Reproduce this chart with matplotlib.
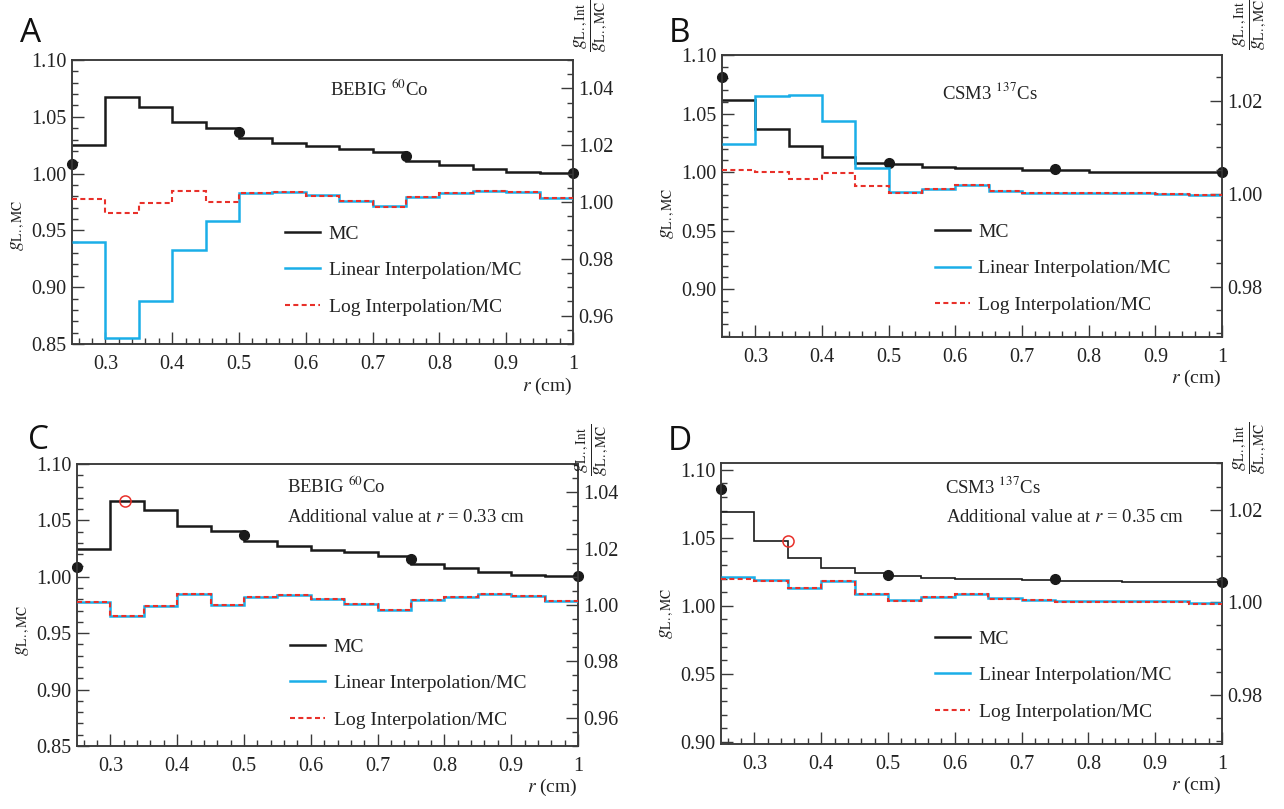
import matplotlib
matplotlib.use('Agg')
import matplotlib.pyplot as plt
from matplotlib.ticker import MultipleLocator, FixedLocator, FixedFormatter, FormatStrFormatter
from matplotlib.lines import Line2D

plt.rcParams['font.family'] = ['Liberation Serif', 'DejaVu Serif']
plt.rcParams['mathtext.fontset'] = 'stix'

# ---------------- data ----------------
r_edges = [0.25, 0.30, 0.35, 0.40, 0.45, 0.50, 0.55, 0.60, 0.65, 0.70,
           0.75, 0.80, 0.85, 0.90, 0.95, 1.00]
ref_r = [0.25, 0.50, 0.75, 1.00]
x_tick_vals = [0.3, 0.4, 0.5, 0.6, 0.7, 0.8, 0.9, 1.0]
x_tick_labels = ['0.3', '0.4', '0.5', '0.6', '0.7', '0.8', '0.9', '1']

# BEBIG 60Co (panels A and C)
co_mc = [1.025, 1.067, 1.059, 1.0454, 1.0404, 1.0315, 1.027, 1.024, 1.0218,
         1.0188, 1.0115, 1.008, 1.004, 1.0017, 1.0005]
co_ref = [1.0085, 1.037, 1.0157, 1.0003]
co_lin_A = [0.986, 0.9521, 0.965, 0.983, 0.9933, 1.0032, 1.0036, 1.0024,
            1.0004, 0.9986, 1.0018, 1.0031, 1.0039, 1.0035, 1.0015]
co_log_A = [1.001, 0.996, 0.9997, 1.0038, 1.0001, 1.003, 1.0035, 1.0022,
            1.0002, 0.9984, 1.0016, 1.003, 1.0038, 1.0034, 1.0014]
co_lin_C = [1.001, 0.996, 0.9997, 1.0038, 1.0001, 1.003, 1.0035, 1.0022,
            1.0002, 0.9983, 1.0016, 1.0029, 1.0038, 1.0033, 1.0013]
co_log_C = [1.001, 0.996, 0.9997, 1.0038, 1.0001, 1.003, 1.0035, 1.0022,
            1.0002, 0.9983, 1.0016, 1.0029, 1.0038, 1.0033, 1.0013]
co_extra_r = [0.322]
co_extra_g = [1.0672]

# CSM3 137Cs (panels B and D)
cs_mc_B = [1.0616, 1.0365, 1.0221, 1.013, 1.008, 1.0066, 1.0046, 1.0032,
           1.0032, 1.0018, 1.0018, 1.0003, 1.0003, 1.0003, 1.0003]
cs_ref_B = [1.0808, 1.0074, 1.0026, 1.0003]
cs_lin_B = [1.0106, 1.0209, 1.0212, 1.0156, 1.0055, 1.0004, 1.0011, 1.0018,
            1.0006, 1.0001, 1.0001, 1.0001, 1.0001, 0.9999, 0.9997]
cs_log_B = [1.005, 1.0046, 1.0031, 1.0044, 1.0016, 1.0001, 1.0009, 1.0018,
            1.0006, 1.0001, 1.0001, 1.0001, 1.0001, 0.9999, 0.9997]

cs_mc_D = [1.0688, 1.048, 1.0354, 1.0276, 1.0239, 1.022, 1.0202, 1.0195,
           1.0195, 1.019, 1.0183, 1.0183, 1.0176, 1.0176, 1.0176]
cs_ref_D = [1.0861, 1.0229, 1.0195, 1.0176]
cs_lin_D = [1.0054, 1.0049, 1.0032, 1.0047, 1.0018, 1.0004, 1.0012, 1.0018,
            1.0009, 1.0005, 1.0002, 1.0002, 1.0002, 1.0002, 0.9998]
cs_log_D = [1.005, 1.0047, 1.0031, 1.0046, 1.0017, 1.0003, 1.0011, 1.0017,
            1.0008, 1.0004, 1.0001, 1.0001, 1.0001, 1.0001, 0.9997]
cs_extra_r = [0.35]
cs_extra_g = [1.0476]

source_co = r'BEBIG $^{60}$Co'
source_cs = r'CSM3 $^{137}$Cs'
extra_text_C = r'Additional value at $r$ = 0.33 cm'
extra_text_D = r'Additional value at $r$ = 0.35 cm'
legend_labels = ['MC', 'Linear Interpolation/MC', 'Log Interpolation/MC']

# ---------------- style ----------------
W, H = 1284, 809
BLACK = '#1a1a1a'
BLUE = '#1aaee8'
RED = '#e8302a'
SPINE = '#3a3a3a'

fig = plt.figure(figsize=(W / 100, H / 100), dpi=100)


def px_rect(l, t, r, b):
    return [l / W, 1 - b / H, (r - l) / W, (b - t) / H]


def panel(rect, letter, letter_xy, ylim_l, ylim_r, lmaj, rmaj,
          mc, ref, lin, log, extra, texts, legend_xy, ylab_y, rlab_xy,
          mc_lw=1.8):
    ax = fig.add_axes(px_rect(*rect))
    ax.set_xlim(0.25, 1.0)
    ax.set_ylim(*ylim_l)
    ax2 = ax.twinx()
    ax2.set_ylim(*ylim_r)

    for a in (ax, ax2):
        for s in a.spines.values():
            s.set_color(SPINE)
            s.set_linewidth(1.1)

    # ticks
    ax.xaxis.set_major_locator(FixedLocator(x_tick_vals))
    ax.xaxis.set_major_formatter(FixedFormatter(x_tick_labels))
    ax.xaxis.set_minor_locator(MultipleLocator(0.02))
    ax.yaxis.set_major_locator(MultipleLocator(lmaj))
    ax.yaxis.set_minor_locator(MultipleLocator(0.01))
    ax.yaxis.set_major_formatter(FormatStrFormatter('%.2f'))
    ax2.yaxis.set_major_locator(MultipleLocator(rmaj))
    ax2.yaxis.set_minor_locator(MultipleLocator(0.005))
    ax2.yaxis.set_major_formatter(FormatStrFormatter('%.2f'))
    ax.tick_params(axis='both', which='both', direction='in', color=SPINE,
                   labelsize=14.5, labelcolor='#222222', width=1.0)
    ax.tick_params(axis='both', which='major', length=8.5)
    ax.tick_params(axis='both', which='minor', length=4.2)
    ax.tick_params(axis='x', pad=8)
    ax.tick_params(axis='y', pad=4, right=False, left=True)
    ax.tick_params(axis='x', top=False)
    ax2.tick_params(axis='y', which='both', direction='in', color=SPINE,
                    labelsize=14.5, labelcolor='#222222', width=1.0, pad=4)
    ax2.tick_params(axis='y', which='major', length=8.5)
    ax2.tick_params(axis='y', which='minor', length=4.2)

    # curves
    ax.stairs(mc, r_edges, baseline=None, color=BLACK, lw=mc_lw, zorder=3)
    ax.plot(ref_r, ref, 'o', color=BLACK, ms=7, clip_on=False, zorder=5)
    if extra is not None:
        ax.plot(extra[0], extra[1], 'o', mfc='none', mec=RED, mew=1.1,
                ms=8, zorder=6)
    ax2.stairs(lin, r_edges, baseline=None, color=BLUE, lw=1.8, zorder=3)
    ax2.stairs(log, r_edges, baseline=None, color=RED, lw=1.5,
               linestyle=(0, (2.4, 1.6)), zorder=4)

    # annotation texts
    for (tx, ty, s) in texts:
        ax.text(tx, ty, s, transform=ax.transAxes, fontsize=13.5,
                ha='left', va='center', color='#222222')

    # legend
    handles = [Line2D([], [], color=BLACK, lw=1.8),
               Line2D([], [], color=BLUE, lw=1.8),
               Line2D([], [], color=RED, lw=1.5, linestyle=(0, (2.4, 1.6)))]
    ax2.legend(handles, legend_labels, loc='upper left',
               bbox_to_anchor=legend_xy, bbox_transform=ax.transAxes,
               frameon=False, fontsize=14, handlelength=1.8,
               handletextpad=0.45, labelspacing=0.98, borderpad=0,
               borderaxespad=0, labelcolor='#222222')

    # axis labels
    ax.text(1.0, -0.148, r'$r$ (cm)', transform=ax.transAxes, ha='right',
            va='center', fontsize=14, color='#222222')
    ax.text(-0.108, ylab_y, r'$g_{\mathrm{L.,MC}}$', transform=ax.transAxes,
            rotation=90, ha='center', va='center', fontsize=14,
            color='#222222')
    fig.text(rlab_xy[0] / W, 1 - rlab_xy[1] / H,
             r'$\dfrac{g_{\mathrm{L.,Int}}}{g_{\mathrm{L.,MC}}}$',
             rotation=90, ha='center', va='center', fontsize=14,
             color='#222222')
    fig.text(letter_xy[0] / W, 1 - letter_xy[1] / H, letter,
             family='Open Sans', fontsize=24, ha='center', va='center',
             color='#111111')
    return ax, ax2


# Panel A
panel((72, 60, 573, 344), 'A', (31, 34), (0.85, 1.10), (0.95, 1.05), 0.05, 0.02,
      co_mc, co_ref, co_lin_A, co_log_A, None,
      [(0.515, 0.898, source_co)],
      (0.425, 0.419), 0.42, (591, 26))

# Panel B
panel((722, 55, 1222, 337), 'B', (680, 34), (0.859, 1.10), (0.9692, 1.0298),
      0.05, 0.02,
      cs_mc_B, cs_ref_B, cs_lin_B, cs_log_B, None,
      [(0.44, 0.866, source_cs)],
      (0.425, 0.404), 0.44, (1250, 24))

# Panel C
panel((77, 464, 578, 746), 'C', (38, 440), (0.85, 1.10), (0.95, 1.05), 0.05, 0.02,
      co_mc, co_ref, co_lin_C, co_log_C, (co_extra_r, co_extra_g),
      [(0.42, 0.92, source_co), (0.42, 0.812, extra_text_C)],
      (0.425, 0.383), 0.41, (592, 450))

# Panel D
panel((721, 463, 1222, 744), 'D', (680, 442), (0.8985, 1.105), (0.9694, 1.0301),
      0.05, 0.02,
      cs_mc_D, cs_ref_D, cs_lin_D, cs_log_D, (cs_extra_r, cs_extra_g),
      [(0.447, 0.917, source_cs), (0.45, 0.806, extra_text_D)],
      (0.427, 0.406), 0.465, (1250, 448), mc_lw=1.2)

fig.savefig('out.png', dpi=100)
